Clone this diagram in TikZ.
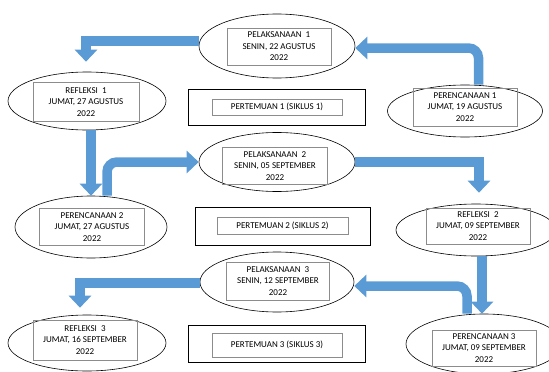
\documentclass[tikz,border=0pt]{standalone}
\usepackage{fontspec}
\setmainfont{Carlito}
\usetikzlibrary{shapes.geometric,arrows.meta}
\definecolor{flowblue}{RGB}{91,155,213}
\begin{document}
\begin{tikzpicture}[x=1pt, y=-1pt,
    oval/.style={ellipse,draw,line width=0.6pt,inner sep=0pt,minimum width=156pt,minimum height=58pt},
    textbox/.style={draw=black!45,line width=0.5pt,align=center,inner sep=0pt,minimum width=104pt,minimum height=37pt,font=\fontsize{9}{11.5}\selectfont},
    meetbox/.style={draw,line width=0.8pt,inner sep=0pt,minimum width=177pt,minimum height=37pt},
    flow/.style={draw=flowblue,line width=9.5pt,-{Triangle[length=12pt,width=22pt]}}]
    \useasboundingbox (0,0) rectangle (549,372);

    % Siklus 1
    \node[oval,minimum height=52pt,minimum width=155pt] (per1) at (465,111) {};
    \node[textbox,minimum height=38pt] (per1t) at (465,107) {PERENCANAAN 1\\JUMAT, 19 AGUSTUS\\2022};
    \node[oval,minimum height=64pt] (pel1) at (277,46) {};
    \node[textbox] (pel1t) at (279,46.5) {PELAKSANAAN~ 1\\SENIN, 22 AGUSTUS\\2022};
    \node[oval,minimum width=158pt] (ref1) at (87,101) {};
    \node[textbox,minimum width=106pt,minimum height=39pt] (ref1t) at (86,102) {REFLEKSI~ 1\\JUMAT, 27 AGUSTUS\\2022};
    \node[meetbox,minimum height=36pt] (pt1) at (276.5,107) {};
    \node[textbox,minimum width=130pt,minimum height=16pt] (pt1t) at (277,107) {PERTEMUAN 1 (SIKLUS 1)};

    % Siklus 2
    \node[oval,minimum width=152pt,minimum height=62pt] (per2) at (91,227) {};
    \node[textbox,minimum width=105pt] (per2t) at (92,227) {PERENCANAAN 2\\JUMAT, 27 AGUSTUS\\2022};
    \node[oval,minimum height=59pt] (pel2) at (277,162) {};
    \node[textbox,minimum width=105pt] (pel2t) at (275,166) {PELAKSANAAN~ 2\\SENIN, 05 SEPTEMBER\\2022};
    \node[oval,minimum width=160pt,minimum height=52pt] (ref2) at (476,230) {};
    \node[textbox,minimum height=36pt] (ref2t) at (478,226) {REFLEKSI~ 2\\JUMAT, 09 SEPTEMBER\\2022};
    \node[meetbox,minimum width=175pt,minimum height=38pt] (pt2) at (282.5,226) {};
    \node[textbox,minimum width=131pt,minimum height=17pt] (pt2t) at (282.5,225.5) {PERTEMUAN 2 (SIKLUS 2)};

    % Siklus 3
    \node[oval,minimum height=60pt] (per3) at (484,344) {};
    \node[textbox,minimum height=36pt] (per3t) at (484,348) {PERENCANAAN 3\\JUMAT, 09 SEPTEMBER\\2022};
    \node[oval,minimum width=154pt,minimum height=60pt] (pel3) at (277,282) {};
    \node[textbox,minimum width=103pt,minimum height=38pt] (pel3t) at (278,281) {PELAKSANAAN~ 3\\SENIN, 12 SEPTEMBER\\2022};
    \node[oval,minimum width=158pt,minimum height=56pt] (ref3) at (87,343) {};
    \node[textbox,minimum height=40pt] (ref3t) at (85,340) {REFLEKSI~ 3\\JUMAT, 16 SEPTEMBER\\2022};
    \node[meetbox] (pt3) at (276.5,343.5) {};
    \node[textbox,minimum width=130pt,minimum height=24pt] (pt3t) at (277,345) {PERTEMUAN 3 (SIKLUS 3)};

    % Arrows
    \draw[flow,rounded corners=10pt] ([xshift=13.5pt]per1.north) |- ([yshift=-2pt]pel1.east);
    \draw[flow] ([yshift=5pt]pel1.west) -| ([xshift=-1pt,yshift=10pt]ref1.north);
    \draw[flow] (per2.north |- ref1.south) -- (per2.north);
    \draw[flow,rounded corners=10pt] ([xshift=16pt]per2.north) |- (pel2.west);
    \draw[flow] (pel2.east) -| ([xshift=3pt,yshift=11pt]ref2.north);
    \draw[flow] ([xshift=6pt]ref2.south) -- ([xshift=6pt]ref2.south |- per3.north);
    \draw[flow,rounded corners=10pt] ([xshift=-17pt]per3.north) |- ([yshift=-4pt]pel3.east);
    \draw[flow] ([yshift=-1pt]pel3.west) -| ([xshift=-7pt,yshift=7pt]ref3.north);
\end{tikzpicture}
\end{document}
